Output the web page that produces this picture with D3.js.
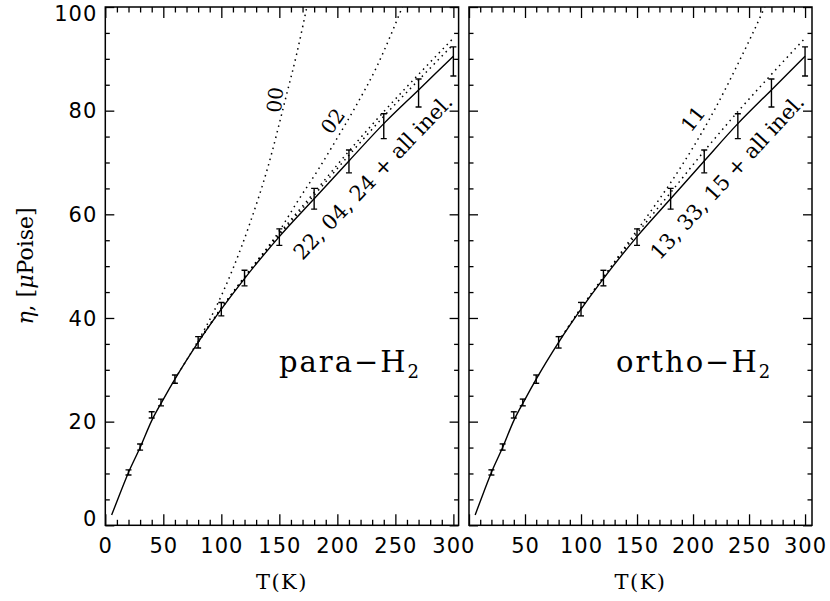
<!DOCTYPE html>
<html lang="en">
<head>
  <meta charset="UTF-8">
  <title>Viscosity of para- and ortho-H2</title>
  <script src="https://cdn.jsdelivr.net/npm/d3@7"></script>
  <style>
    body { margin: 0; background: #fff; }
    .tick text { font-family: "DejaVu Sans", sans-serif; font-size: 21px; letter-spacing: 1px; fill: #000; }
    .serif { font-family: "DejaVu Serif", serif; fill: #000; }
    .frame { fill: none; stroke: #000; stroke-width: 1.5; }
    .full { fill: none; stroke: #000; stroke-width: 1.4; }
    .partial { fill: none; stroke: #000; stroke-width: 1.5; stroke-dasharray: 1.5 4.2; }
    .err { stroke: #000; stroke-width: 1.4; }
  </style>
</head>
<body>
<div class="canvas"></div>
<script>
  // measured viscosity (same points in both panels)
  const obsT   = [20, 30, 40, 48, 60, 80, 100, 120, 150, 180, 210, 240, 270, 300];
  const obsEta = [10.2, 15.1, 21.3, 23.7, 28.2, 35.3, 41.7, 47.7, 55.6, 63.0, 70.2, 77.0, 83.4, 89.5];
  const obsErr = [0.5, 0.6, 0.6, 0.65, 0.8, 1.1, 1.3, 1.5, 1.6, 2.0, 2.2, 2.4, 2.7, 2.8];

  // full calculation, all channels (solid)
  const fullT   = [5.5, 10, 20, 30, 40, 50, 60, 80, 100, 120, 150, 180, 210, 240, 270, 300];
  const fullEta = [2.0, 4.6, 10.2, 15.0, 20.2, 24.3, 28.2, 35.3, 41.7, 47.6, 55.7, 63.0, 70.3, 77.5, 84.0, 90.5];

  // partial sums, para-H2
  const para00T   = [60, 80, 93, 110, 125, 140, 155, 165, 176];
  const para00Eta = [28.3, 35.6, 41.0, 49.5, 58.5, 69.0, 82.0, 91.0, 102.5];
  const para02T   = [80, 100, 120, 150, 166, 184, 198, 215, 234, 256, 260];
  const para02Eta = [35.4, 41.9, 47.9, 56.8, 62.6, 68.8, 74.0, 80.5, 88.5, 100, 102.2];
  const nearT     = [80, 100, 120, 150, 180, 210, 240, 270, 300];
  const para22Eta = [35.4, 41.9, 47.9, 56.3, 64.2, 72.2, 79.8, 87.0, 94.0];
  const para04Eta = [35.3, 41.8, 47.8, 56.0, 63.7, 71.4, 78.9, 85.9, 92.8];

  // partial sums, ortho-H2
  const ortho11T   = [80, 100, 120, 140, 160, 180, 200, 220, 240, 264, 268];
  const ortho11Eta = [35.5, 41.9, 47.8, 53.9, 59.9, 66.1, 72.9, 80.5, 89.0, 100, 102];
  const ortho13Eta = [35.4, 41.9, 47.9, 56.3, 64.2, 72.2, 79.8, 87.0, 94.0];

  const xTicks = [0, 50, 100, 150, 200, 250, 300];
  const yTicks = [0, 20, 40, 60, 80, 100];

  const zip = (a, b) => a.map((v, i) => [v, b[i]]);

  const width = 830, height = 601;
  const plotTop = 7, plotBottom = 525.3;

  const panels = [
    {
      id: 'para', x0: 105.3, x1: 458.6, tMax: 304.5, yLabels: true, zeroLabel: true,
      title: 'para−H', titleX: 279,
      partials: [zip(para00T, para00Eta), zip(para02T, para02Eta), zip(nearT, para22Eta), zip(nearT, para04Eta)],
      notes: [
        { text: '00', t: 146.3, eta: 82.1, rot: -84 },
        { text: '02', t: 196, eta: 78.0, rot: -54 }
      ],
      inel: '22, 04, 24 + all inel.'
    },
    {
      id: 'ortho', x0: 469, x1: 812, tMax: 306.2, yLabels: false, zeroLabel: false,
      title: 'ortho−H', titleX: 616,
      partials: [zip(ortho11T, ortho11Eta), zip(nearT, ortho13Eta)],
      notes: [
        { text: '11', t: 200, eta: 78.4, rot: -52 }
      ],
      inel: '13, 33, 15 + all inel.'
    }
  ];

  const svg = d3.select('.canvas')
    .append('svg')
    .attr('width', width)
    .attr('height', height);

  const y = d3.scaleLinear().domain([0, 100]).range([plotBottom, plotTop]);

  panels.forEach(p => {
    const x = d3.scaleLinear().domain([0, p.tMax]).range([p.x0, p.x1]);
    const g = svg.append('g');

    g.append('clipPath').attr('id', 'clip-' + p.id)
      .append('rect')
      .attr('x', p.x0).attr('y', plotTop)
      .attr('width', p.x1 - p.x0).attr('height', plotBottom - plotTop);

    // axes, ticks pointing inwards on all four sides
    const xMinor = d3.range(0, 301, 10).filter(v => v % 50 !== 0);
    const yMinor = d3.range(0, 101, 5).filter(v => v % 20 !== 0);

    g.append('g').attr('transform', `translate(0,${plotBottom})`)
      .call(d3.axisBottom(x).tickValues(xTicks).tickSize(-11).tickPadding(13)
        .tickFormat(d => (d === 0 && !p.zeroLabel) ? '' : d));
    g.append('g').attr('transform', `translate(0,${plotBottom})`)
      .call(d3.axisBottom(x).tickValues(xMinor).tickSize(-5.5).tickFormat(''));
    g.append('g').attr('transform', `translate(0,${plotTop})`)
      .call(d3.axisTop(x).tickValues(xTicks).tickSize(-11).tickFormat(''));
    g.append('g').attr('transform', `translate(0,${plotTop})`)
      .call(d3.axisTop(x).tickValues(xMinor).tickSize(-5.5).tickFormat(''));

    const gy = g.append('g').attr('transform', `translate(${p.x0},0)`)
      .call(d3.axisLeft(y).tickValues(yTicks).tickSize(-9).tickPadding(8)
        .tickFormat(d => p.yLabels ? d : ''));
    // end labels sit just inside the frame, as in the original
    gy.selectAll('.tick text')
      .attr('dy', d => d === 100 ? '0.65em' : d === 0 ? '0.02em' : '0.34em');
    g.append('g').attr('transform', `translate(${p.x0},0)`)
      .call(d3.axisLeft(y).tickValues(yMinor).tickSize(-4.5).tickFormat(''));
    g.append('g').attr('transform', `translate(${p.x1},0)`)
      .call(d3.axisRight(y).tickValues(yTicks).tickSize(-9).tickFormat(''));
    g.append('g').attr('transform', `translate(${p.x1},0)`)
      .call(d3.axisRight(y).tickValues(yMinor).tickSize(-4.5).tickFormat(''));

    g.selectAll('.domain').remove();
    g.selectAll('.tick line').attr('stroke', '#000').attr('stroke-width', 1.3);

    g.append('rect').attr('class', 'frame')
      .attr('x', p.x0).attr('y', plotTop)
      .attr('width', p.x1 - p.x0).attr('height', plotBottom - plotTop);

    // curves
    const line = d3.line()
      .x(d => x(d[0]))
      .y(d => y(d[1]))
      .curve(d3.curveMonotoneX);

    const plot = g.append('g').attr('clip-path', `url(#clip-${p.id})`);

    plot.selectAll('path.partial')
      .data(p.partials)
      .enter()
      .append('path')
      .attr('class', 'partial')
      .attr('d', line);

    plot.append('path')
      .attr('class', 'full')
      .attr('d', line(zip(fullT, fullEta)));

    // error bars
    const obs = obsT.map((t, i) => ({ t, eta: obsEta[i], err: obsErr[i] }));
    const bars = plot.selectAll('g.err')
      .data(obs)
      .enter()
      .append('g')
      .attr('class', 'err');
    bars.append('line')
      .attr('x1', d => x(d.t)).attr('x2', d => x(d.t))
      .attr('y1', d => y(d.eta - d.err)).attr('y2', d => y(d.eta + d.err));
    [-1, 1].forEach(s => {
      bars.append('line')
        .attr('x1', d => x(d.t) - 3).attr('x2', d => x(d.t) + 3)
        .attr('y1', d => y(d.eta + s * d.err)).attr('y2', d => y(d.eta + s * d.err));
    });

    // labels on curves
    p.notes.forEach(n => {
      g.append('text').attr('class', 'serif')
        .attr('transform', `translate(${x(n.t)},${y(n.eta)}) rotate(${n.rot})`)
        .attr('text-anchor', 'middle')
        .attr('dy', '0.35em')
        .style('font-size', '20px')
        .text(n.text);
    });

    const a0 = [x(170), y(51.0)], a1 = [x(300.5), y(81.5)];
    const ang = Math.atan2(a1[1] - a0[1], a1[0] - a0[0]) * 180 / Math.PI;
    const len = Math.hypot(a1[0] - a0[0], a1[1] - a0[1]);
    g.append('text').attr('class', 'serif')
      .attr('transform', `translate(${a0[0]},${a0[1]}) rotate(${ang})`)
      .attr('textLength', len)
      .attr('lengthAdjust', 'spacing')
      .style('font-size', '21px')
      .text(p.inel);

    // panel title
    const title = g.append('text').attr('class', 'serif')
      .attr('x', p.titleX).attr('y', 372)
      .style('font-size', '29px')
      .style('letter-spacing', '2px')
      .text(p.title);
    title.append('tspan')
      .attr('dy', 6)
      .style('font-size', '18px')
      .text('2');

    // x axis title
    g.append('text').attr('class', 'serif')
      .attr('x', (p.x0 + p.x1) / 2).attr('y', 589)
      .attr('text-anchor', 'middle')
      .style('font-size', '21px')
      .style('letter-spacing', '1.5px')
      .text('T(K)');
  });

  // y axis title
  const yTitle = svg.append('text').attr('class', 'serif')
    .attr('transform', 'translate(33,266) rotate(-90)')
    .attr('text-anchor', 'middle')
    .style('font-size', '22px');
  yTitle.append('tspan').style('font-style', 'italic').text('η');
  yTitle.append('tspan').text(', [');
  yTitle.append('tspan').style('font-style', 'italic').text('μ');
  yTitle.append('tspan').text('Poise]');
</script>
</body>
</html>
